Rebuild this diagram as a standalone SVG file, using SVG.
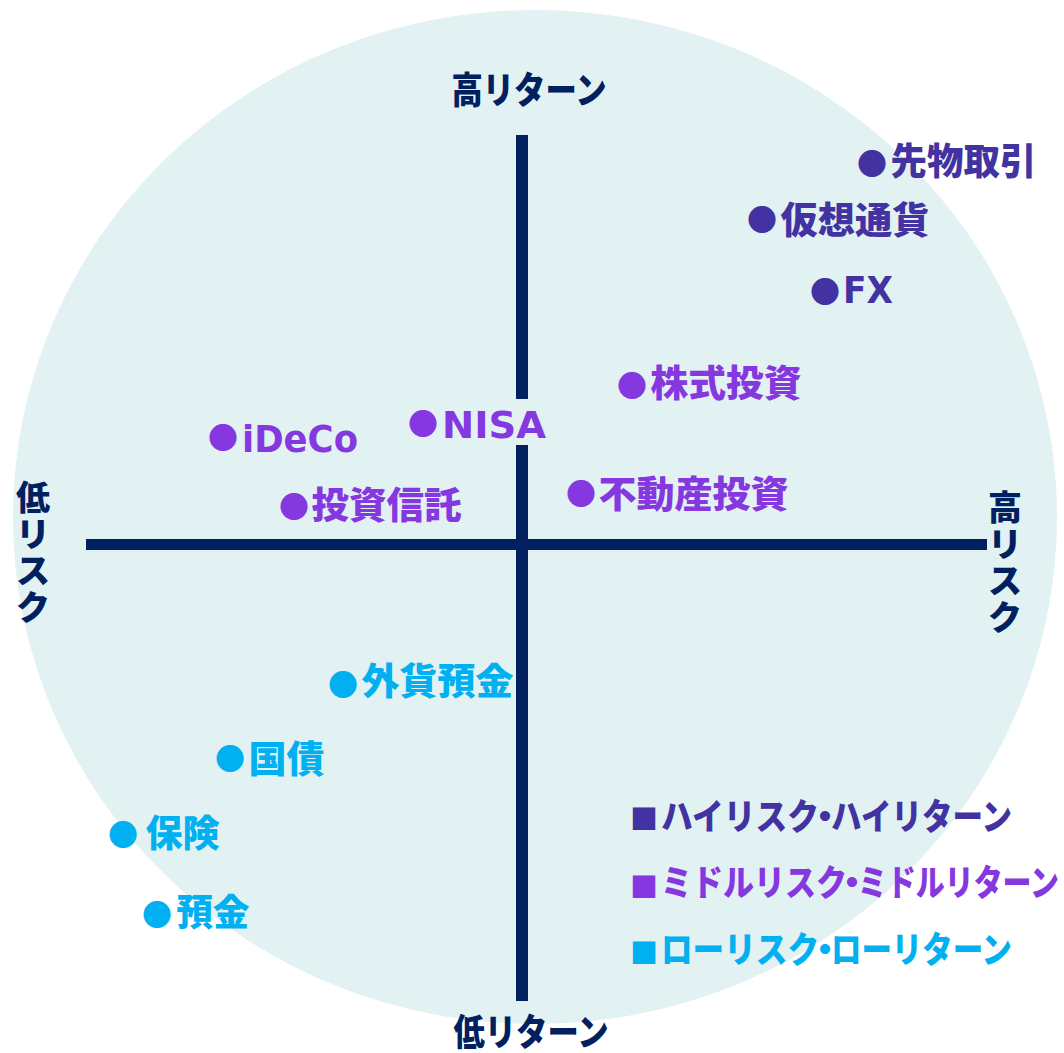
<svg xmlns="http://www.w3.org/2000/svg" width="1064" height="1053" viewBox="0 0 1064 1053">
<style>
.t{font-family:"Noto Sans CJK JP",sans-serif;font-weight:900;font-size:37px}
.lat{font-family:"DejaVu Sans","Noto Sans CJK JP",sans-serif;font-weight:700;font-size:38px}
.b{font-size:30px;font-family:"Noto Sans CJK JP",sans-serif}
.sq{font-size:28px;font-family:"Noto Sans CJK JP",sans-serif}
.lg{font-size:36px}
.ax{font-size:37px}
.vx{font-size:34px}
.hi{fill:#4232A2}.mid{fill:#8638E0}.lo{fill:#00B0F0}.nv{fill:#002060}
.axis{stroke:#002060;fill:none}
</style>
<rect width="1064" height="1053" fill="#FFFFFF"/>
<ellipse id="bg-circle" cx="535" cy="517" rx="522" ry="507" fill="#E2F1F1"/>
<g id="connectors">
<line class="axis" x1="522" y1="135" x2="522" y2="399" stroke-width="12"/>
<line class="axis" x1="522" y1="445" x2="522" y2="1001" stroke-width="12"/>
<line class="axis" x1="86" y1="544.5" x2="987" y2="544.5" stroke-width="11"/>
</g>
<g id="axis-high-return"><text class="t ax nv" x="451.5" y="104" textLength="155" lengthAdjust="spacingAndGlyphs">高リターン</text></g>
<g id="axis-low-return"><text class="t ax nv" x="453.5" y="1046" textLength="155" lengthAdjust="spacingAndGlyphs">低リターン</text></g>
<g id="axis-low-risk"><text class="t vx nv" text-anchor="middle"><tspan x="33" y="510">低</tspan><tspan x="33" y="547">リ</tspan><tspan x="33" y="583">ス</tspan><tspan x="33" y="620">ク</tspan></text></g>
<g id="axis-high-risk"><text class="t vx nv" text-anchor="middle"><tspan x="1005" y="520">高</tspan><tspan x="1005" y="557">リ</tspan><tspan x="1005" y="593">ス</tspan><tspan x="1005" y="630">ク</tspan></text></g>

<g id="n-sakimono"><text class="t hi"><tspan class="b" x="857" y="175.4">●</tspan><tspan x="890.5" y="175" textLength="146" lengthAdjust="spacingAndGlyphs">先物取引</tspan></text></g>
<g id="n-kaso"><text class="t hi"><tspan class="b" x="747" y="231.4">●</tspan><tspan x="780.5" y="234" textLength="149" lengthAdjust="spacingAndGlyphs">仮想通貨</tspan></text></g>
<g id="n-fx"><text class="t hi"><tspan class="b" x="810" y="303.4">●</tspan><tspan class="lat" x="843" y="303" textLength="50" lengthAdjust="spacingAndGlyphs">FX</tspan></text></g>

<g id="n-kabu"><text class="t mid"><tspan class="b" x="617" y="397.4">●</tspan><tspan x="650.5" y="397" textLength="151" lengthAdjust="spacingAndGlyphs">株式投資</tspan></text></g>
<g id="n-nisa"><text class="t mid"><tspan class="b" x="408" y="435.4">●</tspan><tspan class="lat" x="442" y="438" textLength="104" lengthAdjust="spacingAndGlyphs">NISA</tspan></text></g>
<g id="n-ideco"><text class="t mid"><tspan class="b" x="208" y="449.4">●</tspan><tspan class="lat" x="242" y="452" textLength="116" lengthAdjust="spacingAndGlyphs">iDeCo</tspan></text></g>
<g id="n-toshin"><text class="t mid"><tspan class="b" x="279" y="518.4">●</tspan><tspan x="311.5" y="519" textLength="150" lengthAdjust="spacingAndGlyphs">投資信託</tspan></text></g>
<g id="n-fudosan"><text class="t mid"><tspan class="b" x="566" y="505.4">●</tspan><tspan x="598.5" y="508" textLength="190" lengthAdjust="spacingAndGlyphs">不動産投資</tspan></text></g>

<g id="n-gaika"><text class="t lo"><tspan class="b" x="328" y="696.4">●</tspan><tspan x="361.5" y="695" textLength="152" lengthAdjust="spacingAndGlyphs">外貨預金</tspan></text></g>
<g id="n-kokusai"><text class="t lo"><tspan class="b" x="215" y="770.4">●</tspan><tspan x="248.5" y="773" textLength="76" lengthAdjust="spacingAndGlyphs">国債</tspan></text></g>
<g id="n-hoken"><text class="t lo"><tspan class="b" x="108" y="846.4">●</tspan><tspan x="145.5" y="847" textLength="74" lengthAdjust="spacingAndGlyphs">保険</tspan></text></g>
<g id="n-yokin"><text class="t lo"><tspan class="b" x="142" y="926.4">●</tspan><tspan x="176.5" y="926" textLength="73" lengthAdjust="spacingAndGlyphs">預金</tspan></text></g>

<g id="legend-high"><text class="t lg hi"><tspan class="sq" x="630" y="829.6">■</tspan><tspan x="661" y="830" textLength="158" lengthAdjust="spacingAndGlyphs">ハイリスク</tspan><tspan x="807" y="830">・</tspan><tspan x="831" y="830" textLength="181" lengthAdjust="spacingAndGlyphs">ハイリターン</tspan></text></g>
<g id="legend-mid"><text class="t lg mid"><tspan class="sq" x="630" y="897.6">■</tspan><tspan x="661" y="896" textLength="186" lengthAdjust="spacingAndGlyphs">ミドルリスク</tspan><tspan x="834" y="896">・</tspan><tspan x="858" y="896" textLength="201" lengthAdjust="spacingAndGlyphs">ミドルリターン</tspan></text></g>
<g id="legend-low"><text class="t lg lo"><tspan class="sq" x="630" y="963.6">■</tspan><tspan x="661" y="963" textLength="158" lengthAdjust="spacingAndGlyphs">ローリスク</tspan><tspan x="807" y="963">・</tspan><tspan x="831" y="963" textLength="181" lengthAdjust="spacingAndGlyphs">ローリターン</tspan></text></g>
</svg>
